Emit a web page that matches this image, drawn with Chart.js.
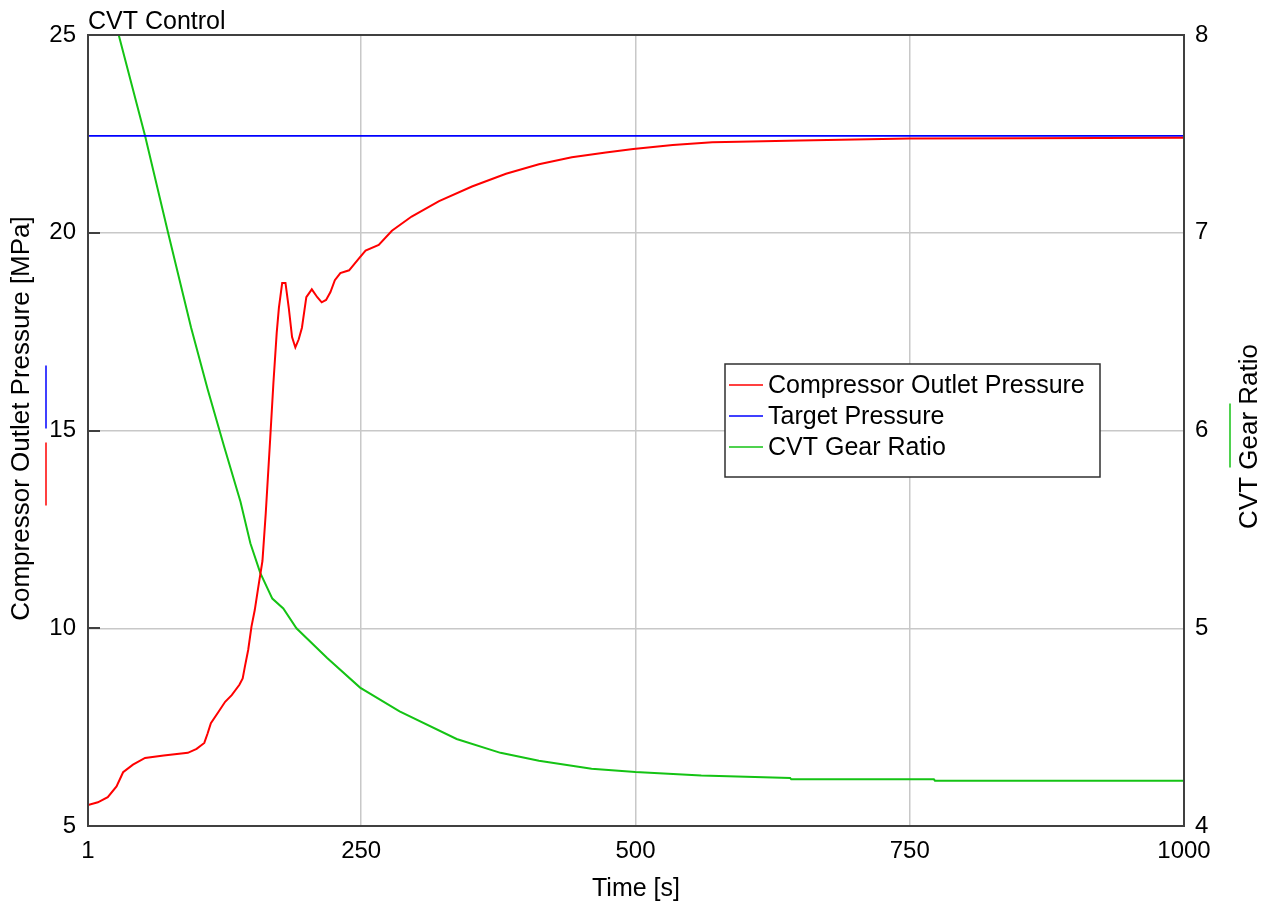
<!DOCTYPE html>
<html>
<head>
<meta charset="utf-8">
<script src="https://cdn.jsdelivr.net/npm/chart.js@4.4.0/dist/chart.umd.min.js"></script>
<style>
    html, body { margin: 0; padding: 0; background: #fff; }
    #wrap { width: 1271px; height: 914px; }
</style>
</head>
<body>
<div id="wrap"><canvas id="graf" width="1271" height="914"></canvas></div>
<script>
// Compressor outlet pressure [MPa] over time [s]
const timeRed = [1, 10, 19, 27, 33, 42, 53, 70, 92, 100, 107, 110, 113, 120, 126, 132, 139, 142, 144, 147,
    150, 153, 156, 160, 163, 167, 170, 173, 175, 178, 181, 184, 187, 190, 193, 196, 200, 205, 210, 214,
    218, 222, 226, 231, 239, 248, 254, 266, 278, 296, 321, 351, 382, 412, 442, 473, 498, 534, 570, 594,
    650, 700, 750, 850, 1000];
const pressure = [5.53, 5.6, 5.73, 6.0, 6.36, 6.55, 6.72, 6.78, 6.85, 6.95, 7.1, 7.34, 7.6, 7.89, 8.14, 8.31, 8.57, 8.73, 9.03, 9.45,
    10.04, 10.46, 11.0, 11.7, 12.9, 14.76, 16.2, 17.47, 18.1, 18.73, 18.73, 18.1, 17.36, 17.1, 17.3, 17.6, 18.37, 18.57, 18.37, 18.24,
    18.3, 18.5, 18.8, 18.98, 19.05, 19.35, 19.55, 19.69, 20.05, 20.41, 20.8, 21.17, 21.49, 21.73, 21.91, 22.03, 22.12, 22.22, 22.29, 22.3,
    22.33, 22.36, 22.38, 22.39, 22.4];

// Target pressure (constant)
const targetTime = [1, 1000];
const targetPressure = [22.45, 22.45];

// CVT gear ratio (right axis)
const timeGreen = [1, 29, 53, 74, 95, 110, 125, 140, 149, 158, 169, 179, 191, 219, 249, 285, 337, 377, 412, 460,
    500, 560, 641, 642, 772, 773, 1000];
const gearRatio = [8.0, 8.0, 7.49, 7.0, 6.52, 6.21, 5.92, 5.64, 5.43, 5.28, 5.15, 5.1, 5.0, 4.85, 4.7, 4.58, 4.44, 4.37, 4.33, 4.29,
    4.273, 4.255, 4.243, 4.236, 4.236, 4.229, 4.229];

const xTicks = [1, 250, 500, 750, 1000];
const FONT = "Liberation Sans, Arial, sans-serif";

const zip = (xs, ys) => xs.map((x, i) => ({ x: x, y: ys[i] }));

// ram, legenda, titulky a barevne znacky u os
const decor = {
    id: "decor",
    afterDraw(chart) {
        const ctx = chart.ctx;
        const a = chart.chartArea;
        const midY = (a.top + a.bottom) / 2;
        ctx.save();

        // frame
        ctx.strokeStyle = "#404040";
        ctx.lineWidth = 2;
        ctx.strokeRect(a.left, a.top, a.right - a.left, a.bottom - a.top);

        // inner tick marks on the left axis
        const ys = chart.scales.y;
        ys.ticks.forEach(t => {
            const py = Math.round(ys.getPixelForValue(t.value));
            ctx.beginPath();
            ctx.moveTo(a.left, py);
            ctx.lineTo(a.left + 12, py);
            ctx.stroke();
        });

        // title
        ctx.fillStyle = "#000";
        ctx.font = "25px " + FONT;
        ctx.textAlign = "left";
        ctx.textBaseline = "alphabetic";
        ctx.fillText("CVT Control", a.left, a.top - 6);

        // axis titles on both sides (read bottom to top)
        ctx.font = "26px " + FONT;
        ctx.textAlign = "center";
        ctx.textBaseline = "middle";
        ctx.save();
        ctx.translate(22, midY - 12);
        ctx.rotate(-Math.PI / 2);
        ctx.fillText("Compressor Outlet Pressure [MPa]", 0, 0);
        ctx.restore();
        ctx.save();
        ctx.translate(1250, midY + 6);
        ctx.rotate(-Math.PI / 2);
        ctx.fillText("CVT Gear Ratio", 0, 0);
        ctx.restore();

        // colour keys next to axis titles
        const ds = chart.data.datasets;
        ctx.lineWidth = 1.5;
        const key = (x, y0, y1, c) => {
            ctx.strokeStyle = c;
            ctx.beginPath();
            ctx.moveTo(x, y0);
            ctx.lineTo(x, y1);
            ctx.stroke();
        };
        key(46, midY - 65, midY - 2, ds[1].borderColor);
        key(46, midY + 12, midY + 75, ds[0].borderColor);
        key(1230, midY - 27, midY + 37, ds[2].borderColor);

        // legend box
        const lx = 725, ly = 364, lw = 375, lh = 113;
        ctx.fillStyle = "#fff";
        ctx.fillRect(lx, ly, lw, lh);
        ctx.strokeStyle = "#303030";
        ctx.lineWidth = 1.5;
        ctx.strokeRect(lx, ly, lw, lh);
        ctx.font = "25px " + FONT;
        ctx.textBaseline = "middle";
        ctx.textAlign = "left";
        ds.forEach((d, i) => {
            const ry = ly + 21 + i * 31;
            ctx.strokeStyle = d.borderColor;
            ctx.lineWidth = 1.5;
            ctx.beginPath();
            ctx.moveTo(lx + 4, ry);
            ctx.lineTo(lx + 38, ry);
            ctx.stroke();
            ctx.fillStyle = "#000";
            ctx.fillText(d.label, lx + 43, ry + 1);
        });
        ctx.restore();
    }
};

const ctx = document.getElementById("graf").getContext("2d");
new Chart(ctx, {
    type: "line",
    data: {
        datasets: [
            {
                label: "Compressor Outlet Pressure",
                data: zip(timeRed, pressure),
                borderColor: "#ff0000",
                borderWidth: 2,
                pointRadius: 0,
                tension: 0,
                fill: false,
                yAxisID: "y"
            },
            {
                label: "Target Pressure",
                data: zip(targetTime, targetPressure),
                borderColor: "#0000ff",
                borderWidth: 1.8,
                pointRadius: 0,
                tension: 0,
                fill: false,
                yAxisID: "y"
            },
            {
                label: "CVT Gear Ratio",
                data: zip(timeGreen, gearRatio),
                borderColor: "#14c314",
                borderWidth: 2,
                pointRadius: 0,
                tension: 0,
                fill: false,
                yAxisID: "y1"
            }
        ]
    },
    options: {
        responsive: false,
        animation: false,
        devicePixelRatio: 1,
        layout: { padding: { top: 35, left: 0, right: 0, bottom: 0 } },
        plugins: {
            legend: { display: false },
            tooltip: { enabled: false }
        },
        scales: {
            x: {
                type: "linear",
                min: 1,
                max: 1000,
                afterBuildTicks: s => { s.ticks = xTicks.map(v => ({ value: v })); },
                afterFit: s => { s.height = 88; },
                grid: { color: "#c8c8c8", lineWidth: 1.5, drawTicks: false },
                border: { display: false },
                ticks: { color: "#000", font: { family: FONT, size: 24 }, padding: 11, maxRotation: 0, callback: v => String(v) },
                title: { display: true, text: "Time [s]", color: "#000", font: { family: FONT, size: 25 }, padding: { top: 0, bottom: 10 } }
            },
            y: {
                position: "left",
                min: 5,
                max: 25,
                afterFit: s => { s.width = 88; },
                grid: { color: "#c8c8c8", lineWidth: 1.5, drawTicks: false },
                border: { display: false },
                ticks: { stepSize: 5, color: "#000", font: { family: FONT, size: 24 }, padding: 12 }
            },
            y1: {
                position: "right",
                min: 4,
                max: 8,
                afterFit: s => { s.width = 87; },
                grid: { drawOnChartArea: false, drawTicks: false },
                border: { display: false },
                ticks: { stepSize: 1, color: "#000", font: { family: FONT, size: 24 }, padding: 11 }
            }
        }
    },
    plugins: [decor]
});
</script>
</body>
</html>
